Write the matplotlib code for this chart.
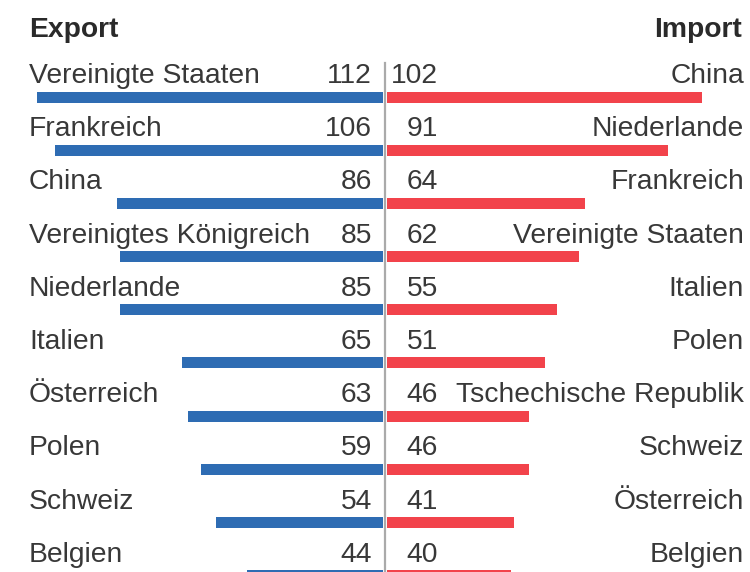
import matplotlib.pyplot as plt

# Daten (Mrd. Euro)
export_laender = ["Vereinigte Staaten", "Frankreich", "China", "Vereinigtes Königreich",
                  "Niederlande", "Italien", "Österreich", "Polen", "Schweiz", "Belgien"]
export_werte = [112, 106, 86, 85, 85, 65, 63, 59, 54, 44]
import_laender = ["China", "Niederlande", "Frankreich", "Vereinigte Staaten", "Italien",
                  "Polen", "Tschechische Republik", "Schweiz", "Österreich", "Belgien"]
import_werte = [102, 91, 64, 62, 55, 51, 46, 46, 41, 40]

blau = "#2e6cb3"
rot = "#f2434b"
grau = "#383838"

plt.rcParams['font.family'] = ['Liberation Sans', 'DejaVu Sans']

fig = plt.figure(figsize=(7.5, 5.72), dpi=100)
ax = fig.add_axes([0, 0, 1, 1])

# Pixel -> Daten
px_per_unit = 3.09
mitte = 385
abstand = 53.2
y0 = 97


def xd(px):
    return (px - mitte) / px_per_unit


def yd(px):
    return (px - y0) / abstand


ax.set_xlim(xd(0), xd(750))
ax.set_ylim(yd(572), yd(0))
ax.axis("off")

lücke = 0.65
hoehe = 11 / abstand
n = len(export_werte)
rows = list(range(n))

ax.barh(rows, [-v for v in export_werte], left=-lücke, height=hoehe, color=blau)
ax.barh(rows, import_werte, left=lücke, height=hoehe, color=rot)

# Mittellinie
ax.plot([0, 0], [yd(63), yd(600)], color="#aaaaaa", lw=1.6)

fs = 20.3
dy = yd(83)
for i in rows:
    ax.text(xd(29), i + dy, export_laender[i], ha="left", va="baseline", fontsize=fs, color=grau)
    ax.text(xd(372), i + dy, str(export_werte[i]), ha="right", va="baseline", fontsize=fs, color=grau)
    ax.text(xd(438), i + dy, str(import_werte[i]), ha="right", va="baseline", fontsize=fs, color=grau)
    ax.text(xd(744), i + dy, import_laender[i], ha="right", va="baseline", fontsize=fs, color=grau)

ax.text(xd(29), yd(37), "Export", ha="left", va="baseline", fontsize=fs,
        fontweight="bold", color="#2a2a2a")
ax.text(xd(742), yd(37), "Import", ha="right", va="baseline", fontsize=fs,
        fontweight="bold", color="#2a2a2a")

fig.savefig("out.png", dpi=100)
